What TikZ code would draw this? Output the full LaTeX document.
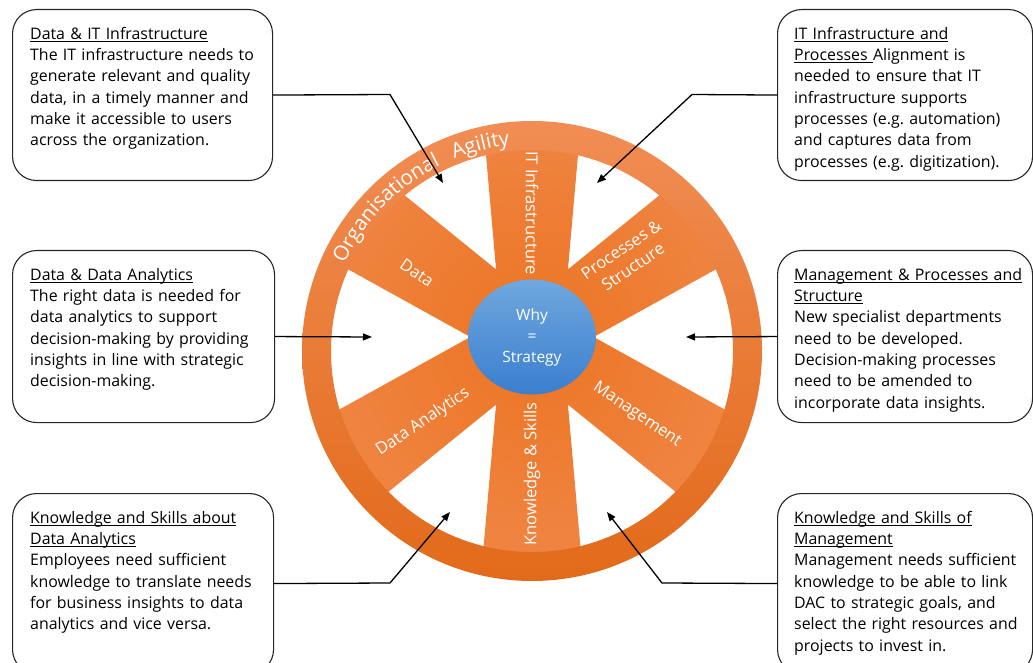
\documentclass[tikz,border=0pt]{standalone}
\usepackage{fontspec}
\setmainfont{Open Sans}
\frenchspacing
\usetikzlibrary{arrows.meta, positioning, shapes.geometric, decorations.text}

\definecolor{ringlight}{RGB}{241,141,84}
\definecolor{ringdark}{RGB}{226,106,26}
\definecolor{spokedark}{RGB}{236,116,34}
\definecolor{spokelight}{RGB}{242,148,96}
\definecolor{hubtop}{RGB}{112,168,222}
\definecolor{hubbot}{RGB}{58,126,206}

% underlined heading, rule just under the baseline
\newcommand\boxhead[1]{\leavevmode\setbox0\hbox{#1}\rlap{\rule[-2.4pt]{\wd0}{0.8pt}}\box0}

\tikzset{
  infobox/.style={draw=black!85, line width=1.1pt, rounded corners=24pt, anchor=north west, inner sep=0pt},
  infotext/.style={anchor=north west, inner sep=0pt, text width=252pt, align=left, font=\fontsize{15.9}{21.3}\selectfont},
  spokelabel/.style={text=white, inner sep=0pt, align=center, font=\fontsize{16.5}{21}\selectfont},
  hub/.style={ellipse, minimum width=128pt, minimum height=115pt, inner sep=0pt, top color=hubtop, bottom color=hubbot,
    text=white, align=center, font=\fontsize{15.5}{21}\selectfont},
  link/.style={line width=1.3pt, -{Triangle[length=9pt,width=7pt]}},
}

\begin{document}
\begin{tikzpicture}[x=1pt, y=1pt]
\useasboundingbox (0,0) rectangle (1033,662);
\coordinate (ring) at (532,311);

% spokes, cut out of one shaded disc
\begin{scope}
  \clip (ring) circle (229);
  \clip[shift={(532,325)}] foreach \a in {34,90,146,214,270,326} {(\a-90:30) -- (\a-12.3:236) -- (\a+12.3:236) -- (\a+90:30) -- cycle};
  \shade[inner color=spokedark, outer color=spokelight] (532,325) circle (420);
\end{scope}
\shade[top color=ringlight, bottom color=ringdark, even odd rule] (ring) circle (230) circle (201);

\node[hub] (why) at (532,325) {Why\\=\\Strategy};

\node[spokelabel, rotate=-90] (itinf) at (532,449) {IT Infrastructure};
\node[spokelabel, rotate=90] (know) at (532,188) {Knowledge \& Skills};
\node[spokelabel, rotate=-34] (data) at (417,389) {Data};
\node[spokelabel, rotate=34] (proc) at (627,404) {Processes \&\\Structure};
\node[spokelabel, rotate=-34] (mgmt) at (637,247) {Management};
\node[spokelabel, rotate=34] (analytics) at (423,240) {Data Analytics};

\path[decorate, decoration={text along path, text align=left,
  text={|\fontsize{20.5}{20.5}\selectfont\color{white}|Organisational}}]
  ([shift={(155:207)}]ring) arc[start angle=155, end angle=100, radius=207];
\path[decorate, decoration={text along path, text align=left,
  text={|\fontsize{20.5}{20.5}\selectfont\color{white}|Agility}}]
  ([shift={(112:207)}]ring) arc[start angle=112, end angle=80, radius=207];

% text boxes
\node[infobox, minimum width=260pt, minimum height=171pt] (dataIT) at (12,653) {};
\node[infobox, minimum width=255pt, minimum height=171pt] (itProc) at (777,653) {};
\node[infobox, minimum width=262pt, minimum height=172pt] (dataDA) at (12,412) {};
\node[infobox, minimum width=255pt, minimum height=172pt] (mgmtProc) at (777,412) {};
\node[infobox, minimum width=261pt, minimum height=180pt] (ksDA) at (12,169) {};
\node[infobox, minimum width=255pt, minimum height=180pt] (ksMgmt) at (777,169) {};

\node[infotext] (dataITtxt) at ([shift={(18,-18)}]dataIT.north west)
  {\boxhead{Data \& IT Infrastructure}\\The IT infrastructure needs to\\generate relevant and quality\\data, in a timely manner and\\make it accessible to users\\across the organization.};
\node[infotext] (itProctxt) at ([shift={(17,-18)}]itProc.north west)
  {\boxhead{IT Infrastructure and}\\\boxhead{Processes }Alignment is\\needed to ensure that IT\\infrastructure supports\\processes (e.g. automation)\\and captures data from\\processes (e.g. digitization).};
\node[infotext] (dataDAtxt) at ([shift={(18,-18)}]dataDA.north west)
  {\boxhead{Data \& Data Analytics}\\The right data is needed for\\data analytics to support\\decision-making by providing\\insights in line with strategic\\decision-making.};
\node[infotext] (mgmtProctxt) at ([shift={(17,-18)}]mgmtProc.north west)
  {\boxhead{Management \& Processes and}\\\boxhead{Structure}\\New specialist departments\\need to be developed.\\Decision-making processes\\need to be amended to\\incorporate data insights.};
\node[infotext] (ksDAtxt) at ([shift={(18,-18)}]ksDA.north west)
  {\boxhead{Knowledge and Skills about}\\\boxhead{Data Analytics}\\Employees need sufficient\\knowledge to translate needs\\for business insights to data\\analytics and vice versa.};
\node[infotext] (ksMgmttxt) at ([shift={(17,-18)}]ksMgmt.north west)
  {\boxhead{Knowledge and Skills of}\\\boxhead{Management}\\Management needs sufficient\\knowledge to be able to link\\DAC to strategic goals, and\\select the right resources and\\projects to invest in.};

% arrows into the gaps
\coordinate (gapTL) at (443,479);
\coordinate (gapTR) at (597,479);
\coordinate (gapL) at (372,325);
\coordinate (gapR) at (686,325);
\coordinate (gapBL) at (450,150);
\coordinate (gapBR) at (607,150);

\draw[link] (dataIT.east) -- (390,567.5) -- (gapTL);
\draw[link] (itProc.west) -- (692,567.5) -- (gapTR);
\draw[link] (dataDA.east) -- (gapL);
\draw[link] (mgmtProc.west) -- (gapR);
\draw[link] (ksDA.east) -- (390,79) -- (gapBL);
\draw[link] (ksMgmt.west) -- (662,79) -- (gapBR);
\end{tikzpicture}
\end{document}
